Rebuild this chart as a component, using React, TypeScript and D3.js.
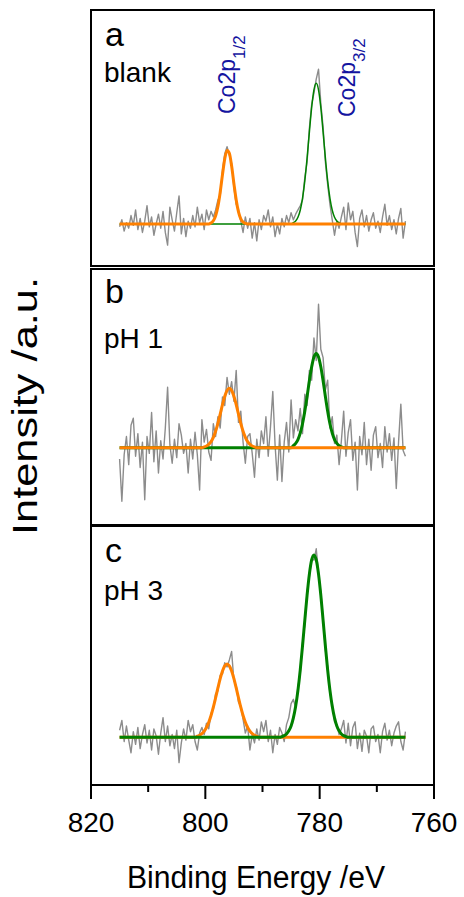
import React from 'react';
import * as d3 from 'd3';

// Binding energy grid of the spectra (eV), 815 -> 765 in 0.4 eV steps
const energies: number[] = d3.range(0, 126).map((i) => +(815 - 0.4 * i).toFixed(1));

const xMajorTicks = [820, 800, 780, 760];
const xMinorTicks = [810, 790, 770];

const panelLetters = ['a', 'b', 'c'];
const panelSamples = ['blank', 'pH 1', 'pH 3'];

// Raw (gray) spectra, intensity a.u.
const grayA = [
  -2, 3, -5, 1, -3, 6, -1, 10, -4, 4,
  -6, 2, 13, -2, 5, -8, 0, 7, -3, 9,
  -6, -15, 12, 3, -5, 8, 20, -7, 4, -9,
  2, -3, 6, -2, 12, 1, 7, -4, 10, 3,
  9, 5, 10, 17, 20, 38, 50, 55, 49, 43,
  26, 14, 10, 2, -6, 5, -3, 4, -10, 1,
  -12, 3, -4, 6, 2, 10, -2, 5, -9, 0,
  -7, 4, -2, 6, 1, 8, 3, 7, 10, 13,
  17, 33, 44, 68, 85, 93, 103, 110, 86, 69,
  44, 28, 14, 3, -8, 2, -3, 5, 12, -4,
  15, 3, 9, -6, -16, 4, 10, -2, 6, -5,
  3, 8, -3, 2, -6, 5, 14, -1, 6, -4,
  3, -7, 4, 11, -10, 2,
];
const grayB = [
  -8, -38, -5, 8, -12, 16, 21, -6, 10, -14,
  4, -37, 8, -4, 25, -10, 12, -18, 5, -8,
  14, 43, 2, -11, 6, -7, 17, 9, -4, 3,
  -18, 6, -8, 11, -5, -30, 20, 4, 13, -3,
  -9, 17, 8, 22, 14, 36, 30, 50, 38, 47,
  33, 55, 18, 26, 4, -11, 8, 10, -4, -21,
  6, -7, 12, 3, 22, -6, 15, 40, 2, -23,
  9, -24, 4, 18, -3, 34, 7, 20, 12, 28,
  10, 38, 30, 55, 48, 78, 62, 102, 70, 64,
  41, 48, 14, 22, 3, 9, -12, 5, 26, -6,
  11, 20, -9, 4, -30, 8, -5, 18, -12, 6,
  -16, 9, 15, -7, 3, -14, 15, -3, 10, -9,
  7, -29, 4, 31, -2, -6,
];
const grayC = [
  5, 12, -3, 8, -2, -11, 4, -5, 7, -8,
  2, 9, -4, 5, -9, 6, 1, -12, 3, 14,
  -3, 8, -6, 2, -8, 5, -18, -4, 6, -2,
  12, 4, 9, -3, -9, 3, 7, 2, 10, 6,
  17, 20, 31, 33, 44, 45, 53, 50, 55, 61,
  40, 37, 25, 22, 13, 3, 8, -9, 2, -4,
  6, -2, 11, 4, 12, -3, 5, -11, 2, -5,
  7, 3, -3, 9, 14, 24, 27, 21, 36, 45,
  67, 80, 104, 114, 127, 126, 134, 117, 103, 85,
  62, 50, 31, 24, 11, 9, 2, 6, 12, -4,
  10, -6, 7, 11, -8, 3, -10, 5, 1, -11,
  6, 8, -3, 2, -11, 4, 10, -2, 5, -6,
  3, 8, 11, -3, -9, 4,
];

// Fitted components [energy, intensity]
const greenA: [number, number][] = [
  [815, 0], [785, 0], [784.6, 0.9], [784.2, 2.2], [783.8, 4.8], [783.4, 9.8], [783, 18.2],
  [782.6, 30.6], [782.2, 46.9], [781.8, 65.3], [781.4, 82.8], [781, 95.4], [780.6, 100],
  [780.2, 95.4], [779.8, 82.8], [779.4, 65.3], [779, 46.9], [778.6, 30.6], [778.2, 18.2],
  [777.8, 9.8], [777.4, 4.8], [777, 2.2], [776.6, 0.9], [776.2, 0], [765, 0],
];
const orangeA: [number, number][] = [
  [815, 0], [799.4, 0], [799, 0.8], [798.6, 2.3], [798.2, 5.8], [797.8, 12.4], [797.4, 22.6],
  [797, 35.1], [796.6, 46.4], [796.2, 52.3], [795.8, 50.3], [795.4, 41.2], [795, 28.7],
  [794.6, 17.1], [794.2, 8.6], [793.8, 3.7], [793.4, 1.4], [793, 0.4], [792.6, 0], [765, 0],
];
const greenB: [number, number][] = [
  [815, 0], [785, 0], [784.6, 1.5], [784.2, 3.1], [783.8, 5.8], [783.4, 10.4], [783, 17],
  [782.6, 25.9], [782.2, 36.4], [781.8, 47.6], [781.4, 57.5], [781, 64.5], [780.6, 67],
  [780.2, 64.5], [779.8, 57.5], [779.4, 47.6], [779, 36.4], [778.6, 25.9], [778.2, 17],
  [777.8, 10.4], [777.4, 5.8], [777, 3.1], [776.6, 1.5], [776.2, 0.6], [775.8, 0], [765, 0],
];
const orangeB: [number, number][] = [
  [815, 0], [800.6, 0], [800.2, 0.6], [799.8, 1.2], [799.4, 2.4], [799, 4.3], [798.6, 7.4],
  [798.2, 11.7], [797.8, 17.3], [797.4, 23.9], [797, 30.6], [796.6, 36.6], [796.2, 40.7],
  [795.8, 42.2], [795.4, 40.7], [795, 36.6], [794.6, 30.6], [794.2, 23.9], [793.8, 17.3],
  [793.4, 11.7], [793, 7.4], [792.6, 4.3], [792.2, 2.4], [791.8, 1.2], [791.4, 0.6], [791, 0], [765, 0],
];
const greenC: [number, number][] = [
  [815, 0], [787, 0], [786.6, 0.5], [786.2, 1.2], [785.8, 2.4], [785.4, 4.6], [785, 8.1],
  [784.6, 13.8], [784.2, 22.1], [783.8, 33.4], [783.4, 47.8], [783, 64.9], [782.6, 83.2],
  [782.2, 101], [781.8, 116], [781.4, 126.1], [781, 129.6], [780.6, 126.1], [780.2, 116],
  [779.8, 101], [779.4, 83.2], [779, 64.9], [778.6, 47.8], [778.2, 33.4], [777.8, 22.1],
  [777.4, 13.8], [777, 8.1], [776.6, 4.6], [776.2, 2.4], [775.8, 1.2], [775.4, 0.5], [775, 0], [765, 0],
];
const orangeC: [number, number][] = [
  [815, 0], [801.8, 0], [801.4, 0.8], [801, 1.5], [800.6, 2.6], [800.2, 4.4], [799.8, 7],
  [799.4, 10.7], [799, 15.5], [798.6, 21.4], [798.2, 28.1], [797.8, 35.1], [797.4, 41.7],
  [797, 47.2], [796.6, 50.8], [796.2, 52.1], [795.8, 50.8], [795.4, 47.2], [795, 41.7],
  [794.6, 35.1], [794.2, 28.1], [793.8, 21.4], [793.4, 15.5], [793, 10.7], [792.6, 7],
  [792.2, 4.4], [791.8, 2.6], [791.4, 1.5], [791, 0.8], [790.6, 0], [765, 0],
];

const yDomains: [number, number][] = [[-29.85, 152.1], [-54.9, 127.0], [-33.9, 150.2]];

const W = 464;
const H = 897;
const FONT = '"Liberation Sans", Arial, Helvetica, sans-serif';
const GRAY = '#8c8c8c';
const GREEN = '#008000';
const ORANGE = '#ff8000';
const BLUE = '#1414a0';

const LEFT = 91;
const RIGHT = 434;
const panelBoxes = [
  { top: 10, bottom: 266 },
  { top: 269, bottom: 525 },
  { top: 526, bottom: 785 },
];

export default function App() {
  const x = d3.scaleLinear().domain([820, 760]).range([LEFT, RIGHT]);
  const grays = [grayA, grayB, grayC];
  const fitSets = [
    [
      { pts: greenA, color: GREEN, w: 1.5 },
      { pts: orangeA, color: ORANGE, w: 3 },
    ],
    [
      { pts: greenB, color: GREEN, w: 3 },
      { pts: orangeB, color: ORANGE, w: 3 },
    ],
    [
      { pts: orangeC, color: ORANGE, w: 3 },
      { pts: greenC, color: GREEN, w: 3 },
    ],
  ];
  const letterBase = [46, 303, 562];
  const sampleBase = [82, 348, 600];
  const bottom = panelBoxes[2].bottom;

  return (
    <svg
      width={W}
      height={H}
      viewBox={`0 0 ${W} ${H}`}
      style={{ position: 'absolute', left: 0, top: 0, background: '#fff' }}
      fontFamily={FONT}
    >
      <rect x={0} y={0} width={W} height={H} fill="#fff" />
      {panelBoxes.map((b, pi) => {
        const y = d3.scaleLinear().domain(yDomains[pi]).range([b.bottom, b.top]);
        const grayLine = d3
          .line<number>()
          .x((_, i) => x(energies[i]))
          .y((d) => y(d));
        const fitLine = d3
          .line<[number, number]>()
          .x((d) => x(d[0]))
          .y((d) => y(d[1]))
          .curve(d3.curveMonotoneX);
        return (
          <g key={pi}>
            <path d={grayLine(grays[pi]) || ''} fill="none" stroke={GRAY} strokeWidth={1.4} strokeLinejoin="round" />
            {fitSets[pi].map((f, fi) => (
              <path key={fi} d={fitLine(f.pts) || ''} fill="none" stroke={f.color} strokeWidth={f.w} strokeLinejoin="round" />
            ))}
            <rect x={LEFT} y={b.top} width={RIGHT - LEFT} height={b.bottom - b.top} fill="none" stroke="#000" strokeWidth={2} />
            <text x={105} y={letterBase[pi]} fontSize={34} fill="#000">{panelLetters[pi]}</text>
            <text x={104} y={sampleBase[pi]} fontSize={28} fill="#000">{panelSamples[pi]}</text>
          </g>
        );
      })}

      {/* peak labels */}
      <text transform="translate(235,114) rotate(-90)" fontSize={23} fill={BLUE}>
        Co2p<tspan fontSize={17} dy={10}>1/2</tspan>
      </text>
      <text transform="translate(355,117) rotate(-90)" fontSize={23} fill={BLUE}>
        Co2p<tspan fontSize={17} dy={10}>3/2</tspan>
      </text>

      {/* bottom axis ticks */}
      {xMajorTicks.map((t) => (
        <g key={'M' + t}>
          <line x1={x(t)} x2={x(t)} y1={bottom} y2={bottom + 14} stroke="#000" strokeWidth={2} />
          <text x={x(t)} y={832} fontSize={28} textAnchor="middle" fill="#000">{t}</text>
        </g>
      ))}
      {xMinorTicks.map((t) => (
        <line key={'m' + t} x1={x(t)} x2={x(t)} y1={bottom} y2={bottom + 7} stroke="#000" strokeWidth={2} />
      ))}

      <text x={256} y={888} fontSize={31} textAnchor="middle" textLength={258} lengthAdjust="spacingAndGlyphs" fill="#000">
        Binding Energy /eV
      </text>
      <text transform="translate(37,406) rotate(-90)" fontSize={35} textAnchor="middle" textLength={258} lengthAdjust="spacingAndGlyphs" fill="#000">
        Intensity /a.u.
      </text>
    </svg>
  );
}
